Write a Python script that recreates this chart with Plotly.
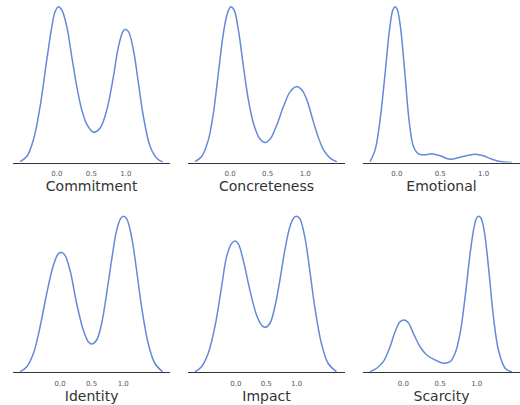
import plotly.graph_objects as go

# Kernel density estimates (relative density, peak = 1) for each persuasion cue
commitment_x = [-0.532, -0.435, -0.339, -0.242, -0.145, -0.072, -0.025, 0.023, 0.072, 0.145,
                0.217, 0.290, 0.362, 0.435, 0.531, 0.628, 0.725, 0.820, 0.893, 0.957,
                0.990, 1.038, 1.110, 1.183, 1.255, 1.352, 1.449, 1.536]
commitment_y = [0.006, 0.038, 0.145, 0.359, 0.658, 0.872, 0.968, 1.000, 0.979, 0.872,
                0.679, 0.487, 0.338, 0.244, 0.194, 0.222, 0.338, 0.551, 0.744, 0.840,
                0.855, 0.840, 0.722, 0.509, 0.295, 0.103, 0.028, 0.002]

concreteness_x = [-0.467, -0.378, -0.289, -0.222, -0.156, -0.089, -0.036, 0.009, 0.053, 0.111,
                  0.178, 0.244, 0.311, 0.391, 0.467, 0.533, 0.622, 0.711, 0.800, 0.880,
                  0.956, 1.022, 1.089, 1.156, 1.244, 1.333, 1.422]
concreteness_y = [0.006, 0.038, 0.145, 0.316, 0.573, 0.829, 0.957, 1.000, 0.979, 0.850,
                  0.615, 0.402, 0.252, 0.156, 0.128, 0.150, 0.241, 0.359, 0.455, 0.487,
                  0.466, 0.402, 0.295, 0.188, 0.081, 0.028, 0.004]

emotional_x = [-0.308, -0.250, -0.193, -0.135, -0.085, -0.046, -0.020, 0.007, 0.046, 0.096,
               0.145, 0.192, 0.249, 0.326, 0.404, 0.499, 0.615, 0.730, 0.826, 0.903,
               0.999, 1.096, 1.191, 1.326]
emotional_y = [0.006, 0.081, 0.274, 0.573, 0.850, 0.979, 1.000, 0.979, 0.850, 0.551,
               0.252, 0.103, 0.056, 0.049, 0.056, 0.043, 0.021, 0.034, 0.047, 0.053,
               0.043, 0.021, 0.006, 0.000]

identity_x = [-0.632, -0.526, -0.421, -0.316, -0.211, -0.105, -0.026, 0.026, 0.079, 0.158,
              0.263, 0.368, 0.447, 0.500, 0.579, 0.658, 0.737, 0.816, 0.895, 0.958,
              1.000, 1.053, 1.132, 1.211, 1.290, 1.395, 1.500, 1.621]
identity_y = [0.004, 0.036, 0.122, 0.292, 0.505, 0.686, 0.761, 0.768, 0.750, 0.654,
              0.441, 0.271, 0.196, 0.181, 0.207, 0.313, 0.505, 0.719, 0.910, 0.985,
              1.000, 0.985, 0.868, 0.655, 0.420, 0.185, 0.058, 0.004]

impact_x = [-0.675, -0.566, -0.456, -0.346, -0.236, -0.154, -0.071, -0.016, 0.038, 0.121,
            0.231, 0.341, 0.423, 0.478, 0.560, 0.643, 0.725, 0.807, 0.890, 0.956,
            1.000, 1.054, 1.137, 1.219, 1.301, 1.411, 1.521, 1.659]
impact_y = [0.004, 0.036, 0.122, 0.292, 0.548, 0.740, 0.825, 0.842, 0.825, 0.719,
            0.527, 0.367, 0.303, 0.288, 0.313, 0.420, 0.590, 0.782, 0.932, 0.991,
            1.000, 0.985, 0.868, 0.654, 0.420, 0.185, 0.058, 0.004]

scarcity_x = [-0.454, -0.363, -0.273, -0.181, -0.113, -0.045, 0.010, 0.068, 0.136, 0.228,
              0.319, 0.432, 0.546, 0.637, 0.705, 0.774, 0.842, 0.910, 0.965, 1.001,
              1.023, 1.056, 1.101, 1.160, 1.228, 1.296, 1.387, 1.479]
scarcity_y = [0.004, 0.026, 0.068, 0.164, 0.260, 0.324, 0.335, 0.318, 0.250, 0.164,
              0.111, 0.079, 0.058, 0.068, 0.122, 0.250, 0.484, 0.761, 0.932, 0.991,
              1.000, 0.991, 0.910, 0.676, 0.356, 0.143, 0.026, 0.002]

labels = ["Commitment", "Concreteness", "Emotional", "Identity", "Impact", "Scarcity"]
xs = [commitment_x, concreteness_x, emotional_x, identity_x, impact_x, scarcity_x]
ys = [commitment_y, concreteness_y, emotional_y, identity_y, impact_y, scarcity_y]
x_ranges = [[-0.63, 1.64], [-0.56, 1.53], [-0.39, 1.42],
            [-0.74, 1.74], [-0.79, 1.80], [-0.55, 1.59]]

tick_vals = [0.0, 0.5, 1.0]
tick_text = ["0.0", "0.5", "1.0"]

W, H = 520, 405
col_px = [(13.3, 170.0), (188.0, 345.0), (363.0, 520.0)]
row_px = [(0.0, 162.5), (209.6, 372.3)]

line_color = "#6488da"
font_family = "DejaVu Sans, Arial, sans-serif"

fig = go.Figure()
layout = dict(
    width=W, height=H,
    margin=dict(l=0, r=0, t=0, b=0),
    paper_bgcolor="white", plot_bgcolor="white",
    showlegend=False,
    font=dict(family=font_family),
)

for i, (name, x, y, xr) in enumerate(zip(labels, xs, ys, x_ranges)):
    r, c = divmod(i, 3)
    n = "" if i == 0 else str(i + 1)
    fig.add_trace(go.Scatter(
        x=x, y=y, mode="lines",
        line=dict(color=line_color, width=1.5, shape="spline", smoothing=1.0),
        xaxis="x" + n, yaxis="y" + n, hoverinfo="skip",
    ))
    x0, x1 = col_px[c]
    top, bottom = row_px[r]
    layout["xaxis" + n] = dict(
        domain=[x0 / W, x1 / W], range=xr, anchor="y" + n,
        showline=True, linecolor="#333333", linewidth=1.3,
        showgrid=False, zeroline=False,
        tickvals=tick_vals, ticktext=tick_text,
        ticks="outside", ticklen=4, tickcolor="rgba(0,0,0,0)",
        tickfont=dict(size=7, color="#555555", family=font_family),
        title=dict(text=name, standoff=3,
                   font=dict(size=14, color="#333333", family=font_family)),
        fixedrange=True,
    )
    layout["yaxis" + n] = dict(
        domain=[1 - bottom / H, 1 - top / H], range=[0, 1.043],
        anchor="x" + n, visible=False, fixedrange=True,
    )

fig.update_layout(**layout)
fig.write_html("out.html")
